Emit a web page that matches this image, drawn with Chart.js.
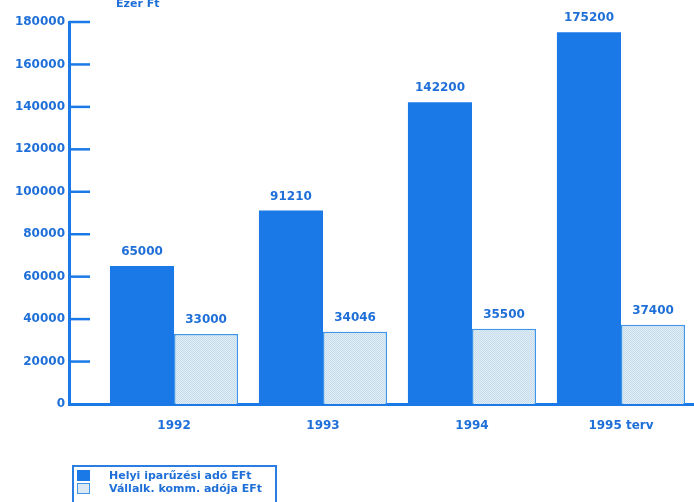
<!DOCTYPE html>
<html>
<head>
<meta charset="utf-8">
<script src="https://cdn.jsdelivr.net/npm/chart.js@4.4.0/dist/chart.umd.min.js"></script>
<style>
  html, body { margin: 0; padding: 0; background: #fff; }
  #wrap { position: relative; width: 694px; height: 502px; overflow: hidden; }
  #legend {
    position: absolute; left: 72px; top: 465px; width: 205px; height: 50px;
    border: 2px solid #2a7de1; box-sizing: border-box; padding: 2px 0 0 3px;
    font: bold 11px "DejaVu Sans", sans-serif; color: #1f6fd8;
  }
  .leg-row { display: flex; align-items: center; height: 12px; margin-bottom: 1px; }
  .leg-sw { width: 13px; height: 11px; margin-right: 19px; box-sizing: border-box; }
</style>
</head>
<body>
<div id="wrap">
  <canvas id="c" width="694" height="502"></canvas>
  <div id="legend"></div>
</div>
<script>
// ---- data ----
const years      = ['1992', '1993', '1994', '1995 terv'];
const iparuzesi  = [65000, 91210, 142200, 175200];
const kommunalis = [33000, 34046, 35500, 37400];
const seriesNames = ['Helyi iparűzési adó EFt', 'Vállalk. komm. adója EFt'];
const unitLabel = 'Ezer Ft';

const BLUE = '#1a79e6';
const TEXT = '#1f6fd8';

// fine dotted light fill for the second series
function dotPattern() {
  const p = document.createElement('canvas');
  p.width = 2; p.height = 2;
  const g = p.getContext('2d');
  g.fillStyle = '#e2eef6';
  g.fillRect(0, 0, 2, 2);
  g.fillStyle = '#c6dcec';
  g.fillRect(0, 0, 1, 1);
  g.fillRect(1, 1, 1, 1);
  return document.getElementById('c').getContext('2d').createPattern(p, 'repeat');
}
const pattern = dotPattern();

// value labels above bars + inward tick marks + unit label
const decorations = {
  id: 'decorations',
  afterDatasetsDraw(chart) {
    const ctx = chart.ctx;
    const y = chart.scales.y;
    const area = chart.chartArea;
    ctx.save();
    // tick marks pointing into the plot
    ctx.strokeStyle = BLUE;
    ctx.lineWidth = 2.5;
    y.ticks.forEach(t => {
      if (t.value === 0) return;
      const py = y.getPixelForValue(t.value);
      ctx.beginPath();
      ctx.moveTo(area.left, py);
      ctx.lineTo(area.left + 21, py);
      ctx.stroke();
    });
    // values
    ctx.fillStyle = TEXT;
    ctx.font = 'bold 12px "DejaVu Sans", sans-serif';
    ctx.textAlign = 'center';
    ctx.textBaseline = 'bottom';
    chart.data.datasets.forEach((ds, i) => {
      chart.getDatasetMeta(i).data.forEach((bar, j) => {
        ctx.fillText(String(ds.data[j].y), bar.x, bar.y - 8);
      });
    });
    // unit (top edge is cut off in the original)
    ctx.font = 'bold 11px "DejaVu Sans", sans-serif';
    ctx.textAlign = 'left';
    ctx.textBaseline = 'alphabetic';
    ctx.fillText(unitLabel, 116, 7);
    ctx.restore();
  }
};

// html legend built from the datasets
const htmlLegend = {
  id: 'htmlLegend',
  afterUpdate(chart) {
    const box = document.getElementById('legend');
    box.innerHTML = '';
    chart.data.datasets.forEach(ds => {
      const row = document.createElement('div');
      row.className = 'leg-row';
      const sw = document.createElement('span');
      sw.className = 'leg-sw';
      sw.style.background = ds.legendFill;
      sw.style.border = ds.borderWidth ? '1px solid ' + ds.borderColor : 'none';
      const tx = document.createElement('span');
      tx.textContent = ds.label;
      row.appendChild(sw);
      row.appendChild(tx);
      box.appendChild(row);
    });
  }
};

new Chart(document.getElementById('c'), {
  type: 'bar',
  data: {
    datasets: [
      {
        label: seriesNames[0],
        data: iparuzesi.map((v, i) => ({ x: i, y: v })),
        backgroundColor: BLUE,
        legendFill: BLUE,
        borderWidth: 0
      },
      {
        label: seriesNames[1],
        data: kommunalis.map((v, i) => ({ x: i, y: v })),
        backgroundColor: pattern,
        legendFill: '#dde9f2',
        borderColor: '#3f95e6',
        borderWidth: 1.5
      }
    ]
  },
  options: {
    responsive: false,
    animation: false,
    categoryPercentage: 0.86,
    barPercentage: 1.0,
    layout: { padding: { top: 22, right: 0, bottom: 68, left: 0 } },
    plugins: {
      legend: { display: false },
      tooltip: { enabled: false }
    },
    scales: {
      x: {
        type: 'linear',
        offset: false,
        min: -0.705,
        max: 3.49,
        grid: { display: false, drawTicks: false, offset: false },
        border: { color: BLUE, width: 3 },
        afterFit: s => { s.height = 30; },
        ticks: {
          stepSize: 1,
          includeBounds: false,
          autoSkip: false,
          maxRotation: 0,
          padding: 15,
          color: TEXT,
          font: { family: 'DejaVu Sans', weight: 'bold', size: 12 },
          callback: v => (Number.isInteger(v) && years[v]) ? years[v] : ''
        }
      },
      y: {
        min: 0,
        max: 180000,
        grid: { display: false, drawTicks: false },
        border: { color: BLUE, width: 3 },
        afterFit: s => { s.width = 69; },
        ticks: {
          stepSize: 20000,
          padding: 4,
          color: TEXT,
          font: { family: 'DejaVu Sans', weight: 'bold', size: 12 },
          callback: v => String(v)
        }
      }
    }
  },
  plugins: [decorations, htmlLegend]
});
</script>
</body>
</html>
